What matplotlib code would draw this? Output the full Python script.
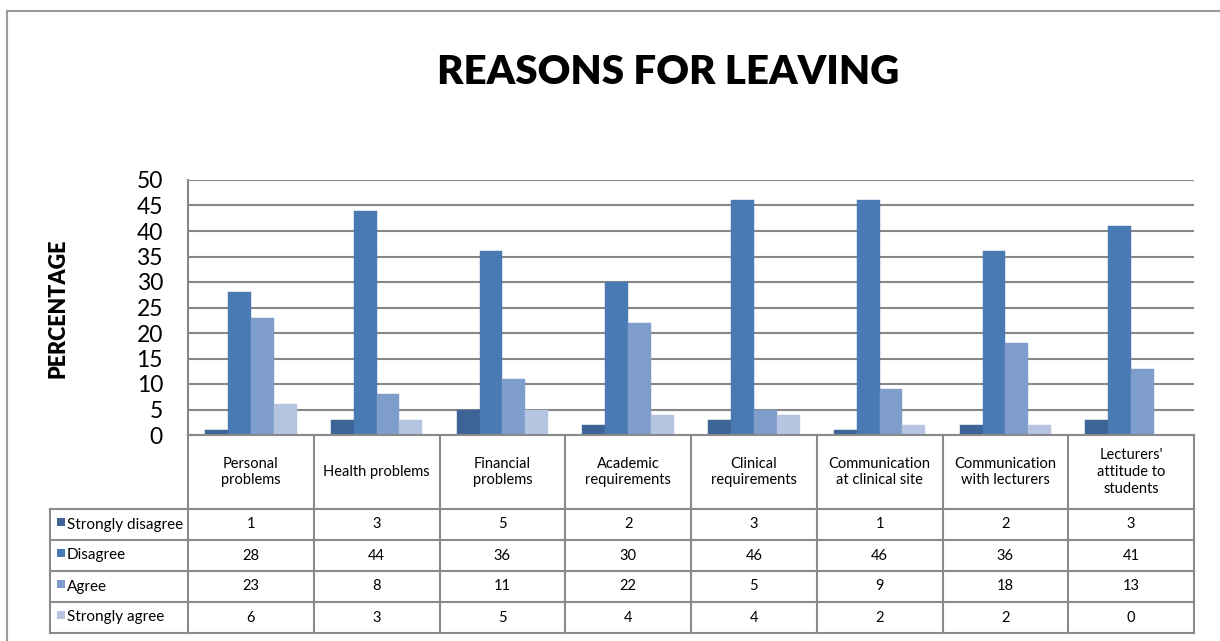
import matplotlib
matplotlib.use("Agg")
import matplotlib.pyplot as plt
from matplotlib.transforms import blended_transform_factory
from matplotlib.patches import Rectangle
import numpy as np

plt.rcParams['font.family'] = ['Lato', 'DejaVu Sans']

categories = ["Personal\nproblems", "Health problems", "Financial\nproblems",
              "Academic\nrequirements", "Clinical\nrequirements",
              "Communication\nat clinical site", "Communication\nwith lecturers",
              "Lecturers'\nattitude to\nstudents"]
series_names = ["Strongly disagree", "Disagree", "Agree", "Strongly agree"]
strongly_disagree = [1, 3, 5, 2, 3, 1, 2, 3]
disagree = [28, 44, 36, 30, 46, 46, 36, 41]
agree = [23, 8, 11, 22, 5, 9, 18, 13]
strongly_agree = [6, 3, 5, 4, 4, 2, 2, 0]
series_values = [strongly_disagree, disagree, agree, strongly_agree]
colors = ["#3C6497", "#4A7AB4", "#7F9DCA", "#B4C4E1"]
yticks = [0, 5, 10, 15, 20, 25, 30, 35, 40, 45, 50]

W, H = 1220, 641
fig = plt.figure(figsize=(W / 100, H / 100), dpi=100)

def fx(px):
    return px / W

def fy(py):
    return 1 - py / H

# plot area in pixels
L, R, T, B = 188, 1194, 180, 435
ax = fig.add_axes([fx(L), fy(B), fx(R - L), (B - T) / H])

n = len(categories)
x = np.arange(n)
bw = 1 / 5.5
for i, (vals, c) in enumerate(zip(series_values, colors)):
    ax.bar(x + (i - 1.5) * bw, vals, width=bw, color=c, edgecolor=c, linewidth=0.3, zorder=3)

ax.set_xlim(-0.5, n - 0.5)
ax.set_ylim(0, 50)
ax.set_yticks(yticks)
ax.set_yticklabels([str(t) for t in yticks], fontsize=16.5)
ax.tick_params(axis='y', length=0, pad=18)
ax.set_xticks([])
ax.yaxis.grid(True, color="#878787", linewidth=1.5, zorder=0)
for s in ['top', 'right', 'bottom']:
    ax.spines[s].set_visible(False)
ax.spines['left'].set_color("#878787")
ax.spines['left'].set_linewidth(1.5)

# y label
fig.text(fx(58), fy(308), "PERCENTAGE", rotation=90, ha='center', va='center',
         fontsize=15.5, fontweight='heavy')

# title
fig.text(fx(668), fy(73), "REASONS FOR LEAVING", ha='center', va='center',
         fontsize=29, fontweight='heavy')

# outer border
fig.patches.append(Rectangle((fx(7), fy(H + 20)), fx(W + 20), (H + 20 - 11) / H,
                             transform=fig.transFigure, fill=False,
                             edgecolor="#9A9A9A", linewidth=1.5))

# data table
gc = "#8A8A8A"
lw = 1.5
trans = blended_transform_factory(ax.transData, fig.transFigure)
row_edges = [435, 509, 540, 571, 602, 633]
label_left = 50
for k, ry in enumerate(row_edges):
    if k > 0:
        fig.add_artist(plt.Line2D([fx(label_left), fx(L)], [fy(ry), fy(ry)],
                                  transform=fig.transFigure, color=gc, linewidth=lw))
    fig.add_artist(plt.Line2D([-0.5, n - 0.5], [fy(ry), fy(ry)], transform=trans,
                              color=gc, linewidth=lw))
for j in range(n + 1):
    fig.add_artist(plt.Line2D([j - 0.5, j - 0.5], [fy(row_edges[0]), fy(row_edges[-1])],
                              transform=trans, color=gc, linewidth=lw))
fig.add_artist(plt.Line2D([fx(label_left), fx(label_left)], [fy(row_edges[1]), fy(row_edges[-1])],
                          transform=fig.transFigure, color=gc, linewidth=lw))

# header text
hy = fy((row_edges[0] + row_edges[1]) / 2)
for j, cat in enumerate(categories):
    fig.text(j, hy, cat, transform=trans, ha='center', va='center',
             fontsize=10.5, linespacing=1.25)

# rows
for r, (name, vals, c) in enumerate(zip(series_names, series_values, colors)):
    cy = fy((row_edges[r + 1] + row_edges[r + 2]) / 2)
    fig.patches.append(Rectangle((fx(57), cy - 1 / H), fx(8), 8 / H,
                                 transform=fig.transFigure, facecolor=c, edgecolor='none'))
    fig.text(fx(67), cy, name, ha='left', va='center', fontsize=11)
    for j, v in enumerate(vals):
        fig.text(j, cy, str(v), transform=trans, ha='center', va='center',
                 fontsize=10.5)

fig.savefig("out.png", dpi=100)
